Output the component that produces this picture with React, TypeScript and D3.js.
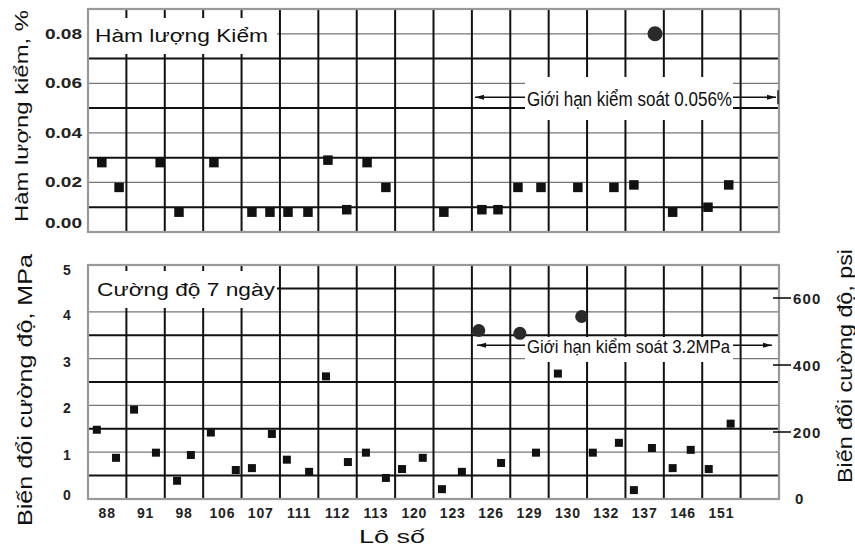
import React from 'react';
import * as d3 from 'd3';

// lot numbers shown under the columns
const lotLabels = ['88', '91', '98', '106', '107', '111', '112', '113', '120', '123', '126', '129', '130', '132', '137', '146', '151'];

// alkali content, % (position is in column units along the lot axis)
const alkaliPos = [0.36, 0.81, 1.88, 2.37, 3.28, 4.27, 4.74, 5.21, 5.73, 6.25, 6.74, 7.27, 7.76, 9.27, 10.26, 10.68, 11.2, 11.8, 12.76, 13.7, 14.22, 15.23, 16.15, 16.69];
const alkaliVal = [0.028, 0.018, 0.028, 0.008, 0.028, 0.008, 0.008, 0.008, 0.008, 0.029, 0.009, 0.028, 0.018, 0.008, 0.009, 0.009, 0.018, 0.018, 0.018, 0.018, 0.019, 0.008, 0.01, 0.019];
const alkaliOutPos = [14.77];
const alkaliOutVal = [0.08];
const alkaliTicks = [0, 0.02, 0.04, 0.06, 0.08];
const alkaliLimit = 0.056;

// 7 day strength variation, MPa
const strengthPos = [0.23, 0.73, 1.2, 1.77, 2.32, 2.68, 3.2, 3.85, 4.27, 4.79, 5.18, 5.76, 6.2, 6.77, 7.24, 7.76, 8.18, 8.72, 9.22, 9.74, 10.76, 11.67, 12.24, 13.15, 13.83, 14.22, 14.69, 15.23, 15.7, 16.17, 16.74];
const strengthVal = [1.48, 0.88, 1.91, 0.99, 0.39, 0.94, 1.42, 0.62, 0.66, 1.39, 0.84, 0.58, 2.62, 0.79, 0.99, 0.45, 0.64, 0.88, 0.21, 0.58, 0.77, 0.99, 2.68, 0.99, 1.2, 0.19, 1.09, 0.66, 1.05, 0.64, 1.61];
const strengthOutPos = [10.18, 11.25, 12.86];
const strengthOutVal = [3.6, 3.54, 3.9];
const mpaTicks = [0, 1, 2, 3, 4, 5];
const psiTicks = [0, 200, 400, 600];
const strengthLimit = 3.2;

const W = 855;
const H = 549;
const left = 88;
const right = 779;
const nCols = 18;
const top1 = 9;
const bottom1 = 232;
const top2 = 265;
const bottom2 = 499;
const font = '"Liberation Sans", Arial, sans-serif';

const x = d3.scaleLinear().domain([0, nCols]).range([left, right]);
const yA = d3.scaleLinear().domain([0, 0.09]).range([bottom1, top1]);
const yS = d3.scaleLinear().domain([0, 5]).range([bottom2, top2]);
const yP = d3.scaleLinear().domain([0, 600]).range([bottom2, 298]);

function Arrow({ x1, x2, y }: { x1: number; x2: number; y: number }) {
  const d = x2 > x1 ? 1 : -1;
  return (
    <g>
      <line x1={x1} x2={x2} y1={y} y2={y} stroke="#111" strokeWidth={1.4} />
      <path d={`M${x2},${y}L${x2 - d * 9},${y - 2.5}L${x2 - d * 9},${y + 2.5}Z`} fill="#111" />
    </g>
  );
}

function Grid({ y, top, bottom, thick, thin }: any) {
  const cols = d3.range(1, nCols);
  return (
    <g>
      {thin.map((v: number) => (
        <line key={'t' + v} x1={left} x2={right} y1={y(v)} y2={y(v)} stroke="#777" strokeWidth={1.2} />
      ))}
      {thick.map((v: number) => (
        <line key={'k' + v} x1={left} x2={right} y1={y(v)} y2={y(v)} stroke="#111" strokeWidth={2} />
      ))}
      {cols.map((c) => (
        <line key={'c' + c} x1={x(c)} x2={x(c)} y1={top} y2={bottom} stroke="#111" strokeWidth={2} />
      ))}
    </g>
  );
}

export default function App() {
  const sq1 = 9.5;
  const sq2 = 8;
  const aLimY = yA(alkaliLimit) + 4;
  const sLimY = yS(strengthLimit) - 4;

  return (
    <svg width={W} height={H} style={{ position: 'absolute', left: 0, top: 0, background: '#fff' }} fontFamily={font}>
      <rect width={W} height={H} fill="#fff" />

      {/* ---------- top panel: alkali content ---------- */}
      <Grid y={yA} top={top1} bottom={bottom1} thick={[0.01, 0.03, 0.05, 0.07]} thin={[0.02, 0.04, 0.06, 0.08]} />
      <rect x={left + 1} y={top1 + 9} width={188} height={36} fill="#fff" />
      <rect x={525} y={77} width={208} height={43} fill="#fff" />
      <rect x={left} y={top1} width={right - left} height={bottom1 - top1} fill="none" stroke="#999" strokeWidth={2.2} />
      <text x={95} y={42} fontSize={18} textLength={173} lengthAdjust="spacingAndGlyphs" fill="#111">
        Hàm lượng Kiểm
      </text>
      <text x={527} y={106} fontSize={20} textLength={205} lengthAdjust="spacingAndGlyphs" fill="#111">
        Giới hạn kiểm soát 0.056%
      </text>
      <Arrow x1={525} x2={475} y={aLimY} />
      <Arrow x1={733} x2={776} y={aLimY} />
      <line x1={778} x2={778} y1={aLimY - 7} y2={aLimY + 7} stroke="#111" strokeWidth={1.4} />

      {alkaliPos.map((p, i) => (
        <rect key={i} x={x(p) - sq1 / 2} y={yA(alkaliVal[i]) - sq1 / 2} width={sq1} height={sq1} fill="#111" />
      ))}
      {alkaliOutPos.map((p, i) => (
        <circle key={i} cx={x(p)} cy={yA(alkaliOutVal[i])} r={7.5} fill="#2a2a2a" />
      ))}

      {alkaliTicks.map((v) => (
        <text
          key={v}
          x={82}
          y={Math.min(yA(v), bottom1 - 9)}
          textAnchor="end"
          dominantBaseline="central"
          fontSize={14}
          fontWeight="bold"
          textLength={37}
          lengthAdjust="spacingAndGlyphs"
          fill="#222"
        >
          {v.toFixed(2)}
        </text>
      ))}
      <text
        transform={`translate(28,${116}) rotate(-90)`}
        textAnchor="middle"
        fontSize={18}
        textLength={212}
        lengthAdjust="spacingAndGlyphs"
        fill="#111"
      >
        Hàm lượng kiểm, %
      </text>

      {/* ---------- bottom panel: 7 day strength ---------- */}
      <Grid y={yS} top={top2} bottom={bottom2} thick={[0.5, 1.5, 2.5, 3.5, 4.5]} thin={[1, 2, 3, 4]} />
      <rect x={left + 1} y={top2 + 6} width={188} height={37} fill="#fff" />
      <rect x={525} y={337} width={208} height={25} fill="#fff" />
      <rect x={left} y={top2} width={right - left} height={bottom2 - top2} fill="none" stroke="#999" strokeWidth={2.2} />
      <text x={97} y={296} fontSize={18} textLength={178} lengthAdjust="spacingAndGlyphs" fill="#111">
        Cường độ 7 ngày
      </text>
      <text x={527} y={353} fontSize={19} textLength={203} lengthAdjust="spacingAndGlyphs" fill="#111">
        Giới hạn kiểm soát 3.2MPa
      </text>
      <Arrow x1={525} x2={477} y={sLimY} />
      <Arrow x1={733} x2={772} y={sLimY} />

      {strengthPos.map((p, i) => (
        <rect key={i} x={x(p) - sq2 / 2} y={yS(strengthVal[i]) - sq2 / 2} width={sq2} height={sq2} fill="#111" />
      ))}
      {strengthOutPos.map((p, i) => (
        <circle key={i} cx={x(p)} cy={yS(strengthOutVal[i])} r={6.5} fill="#2a2a2a" />
      ))}

      {mpaTicks.map((v) => (
        <text
          key={v}
          x={67}
          y={Math.max(Math.min(yS(v) + 3, bottom2 - 4), top2 + 5)}
          textAnchor="middle"
          dominantBaseline="central"
          fontSize={14}
          fontWeight="bold"
          fill="#222"
        >
          {v}
        </text>
      ))}
      <text
        transform={`translate(32,${390}) rotate(-90)`}
        textAnchor="middle"
        fontSize={20}
        textLength={272}
        lengthAdjust="spacingAndGlyphs"
        fill="#111"
      >
        Biến đổi cường độ, MPa
      </text>

      {/* right psi axis */}
      {psiTicks.map((v) => (
        <g key={v}>
          {v > 0 && <line x1={773} x2={791} y1={yP(v)} y2={yP(v)} stroke="#111" strokeWidth={1.6} />}
          <text
            x={v > 0 ? 793 : 795}
            y={v > 0 ? yP(v) : yP(v) - 1}
            dominantBaseline="central"
            fontSize={15}
            fontWeight="bold"
            letterSpacing={1.2}
            fill="#222"
          >
            {v}
          </text>
        </g>
      ))}
      <text
        transform={`translate(852,${366}) rotate(-90)`}
        textAnchor="middle"
        fontSize={20}
        textLength={234}
        lengthAdjust="spacingAndGlyphs"
        fill="#111"
      >
        Biến đổi cường độ, psi
      </text>

      {/* lot axis */}
      {lotLabels.map((l, i) => (
        <text
          key={l}
          x={x(i + 0.5)}
          y={518}
          textAnchor="middle"
          fontSize={14}
          fontWeight="bold"
          letterSpacing={0.8}
          fill="#222"
        >
          {l}
        </text>
      ))}
      <text x={392} y={543} textAnchor="middle" fontSize={19} textLength={66} lengthAdjust="spacingAndGlyphs" fill="#111">
        Lô số
      </text>
    </svg>
  );
}
